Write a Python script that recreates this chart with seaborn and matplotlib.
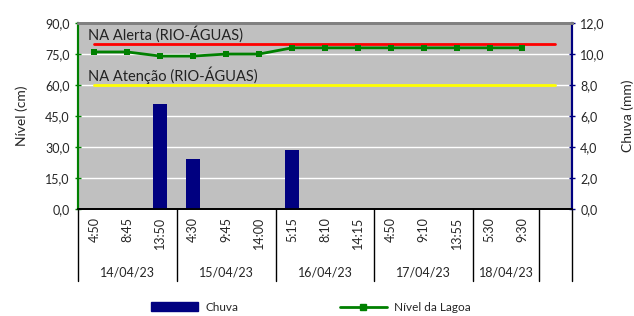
import numpy as np
import pandas as pd
import matplotlib
matplotlib.use('Agg')
import matplotlib.pyplot as plt
from matplotlib.ticker import FuncFormatter, MultipleLocator, FixedLocator
from matplotlib.patches import Patch
from matplotlib.lines import Line2D
import seaborn as sns

# data
horas = ['4:50', '8:45', '13:50', '4:30', '9:45', '14:00', '5:15', '8:10',
         '14:15', '4:50', '9:10', '13:55', '5:30', '9:30', '']
datas = ['14/04/23', '15/04/23', '16/04/23', '17/04/23', '18/04/23']
n_por_data = [3, 3, 3, 3, 2]
chuva = [0, 0, 6.8, 3.2, 0, 0, 3.8, 0, 0, 0, 0, 0, 0, 0, 0]
nivel = [76, 76, 74, 74, 75, 75, 78, 78, 78, 78, 78, 78, 78, 78]
na_alerta = 80
na_atencao = 60

sns.set_theme(style='white')
plt.rcParams['font.family'] = ['Lato', 'DejaVu Sans']

pos = list(range(len(horas)))
df_chuva = pd.DataFrame({'pos': pos, 'chuva': chuva})
df_nivel = pd.DataFrame({'pos': pos[:len(nivel)], 'nivel': nivel})

fig = plt.figure(figsize=(6.34, 3.16), dpi=100)
ax = fig.add_axes([0.123, 0.339, 0.779, 0.588])
ax.set_facecolor('#C0C0C0')
ax2 = ax.twinx()

# nivel (left axis)
ax.plot(pos, [na_alerta] * len(pos), color='#FF0000', lw=2, zorder=3)
ax.plot(pos, [na_atencao] * len(pos), color='#FFFF00', lw=2, zorder=3)
sns.lineplot(data=df_nivel, x='pos', y='nivel', ax=ax, color='#008000', lw=2,
             marker='s', markersize=5, markeredgewidth=0, zorder=4)
ax.text(-0.2, na_alerta + 0.3, 'NA Alerta (RIO-ÁGUAS)', fontsize=10.5, va='bottom', color='#222222')
ax.text(-0.2, na_atencao + 0.3, 'NA Atenção (RIO-ÁGUAS)', fontsize=10.5, va='bottom', color='#222222')

ax.set_ylim(0, 90)
ax.yaxis.set_major_locator(MultipleLocator(15))
ax.grid(axis='y', color='white', lw=1)
ax.set_axisbelow(True)
ax.set_xlabel('')
ax.set_ylabel('Nível (cm)', fontsize=10, labelpad=12)

# chuva (right axis)
sns.barplot(data=df_chuva, x='pos', y='chuva', ax=ax2, color='#000080',
            width=0.42, saturation=1, edgecolor='#000080', linewidth=0)
ax2.set_ylim(0, 12)
ax2.yaxis.set_major_locator(MultipleLocator(2))
ax2.set_ylabel('Chuva (mm)', fontsize=10, labelpad=12)
ax2.set_xlabel('')

comma = FuncFormatter(lambda v, p: f'{v:.1f}'.replace('.', ','))
ax.yaxis.set_major_formatter(comma)
ax2.yaxis.set_major_formatter(comma)

ax.set_xlim(-0.5, len(horas) - 0.5)
ax2.set_xlim(-0.5, len(horas) - 0.5)
ax.set_xticks(pos)
ax.set_xticklabels(horas, rotation=90, fontsize=9)
ax.xaxis.set_minor_locator(FixedLocator(np.arange(-0.5, len(horas), 1)))
ax.tick_params(axis='x', which='major', length=0, pad=6)
ax.tick_params(axis='x', which='minor', length=32, width=1, color='black', direction='out')
ax.tick_params(axis='y', labelsize=9, length=5, direction='inout', color='#008000', width=1, left=True)
ax2.tick_params(axis='y', labelsize=9, length=5, direction='inout', color='#000080', width=1, right=True)
ax2.tick_params(axis='x', bottom=False, labelbottom=False)

for a in (ax, ax2):
    a.spines['left'].set_color('#008000')
    a.spines['right'].set_color('#000080')
    a.spines['top'].set_color('#808080')
    a.spines['top'].set_linewidth(2)
    a.spines['bottom'].set_color('black')
    a.spines['left'].set_linewidth(1.5)
    a.spines['right'].set_linewidth(1.5)

# date groups under the hours
tr = ax.get_xaxis_transform()
limites = np.concatenate([[0], np.cumsum(n_por_data), [len(horas)]]) - 0.5
for b in limites:
    ax.plot([b, b], [0, -0.387], transform=tr, color='black', lw=1, clip_on=False)
inicio = 0
for d, n in zip(datas, n_por_data):
    ax.text(inicio + (n - 1) / 2, -0.34, d, transform=tr, ha='center', va='center', fontsize=9)
    inicio += n

handles = [Patch(color='#000080', label='Chuva'),
           Line2D([], [], color='#008000', lw=2, marker='s', markersize=4, label='Nível da Lagoa')]
fig.legend(handles=handles, loc='center', bbox_to_anchor=(0.49, 0.028), ncol=2, frameon=False,
           fontsize=8.5, handlelength=4.0, columnspacing=8.6, handletextpad=0.6)

fig.savefig('out.png', dpi=100)
